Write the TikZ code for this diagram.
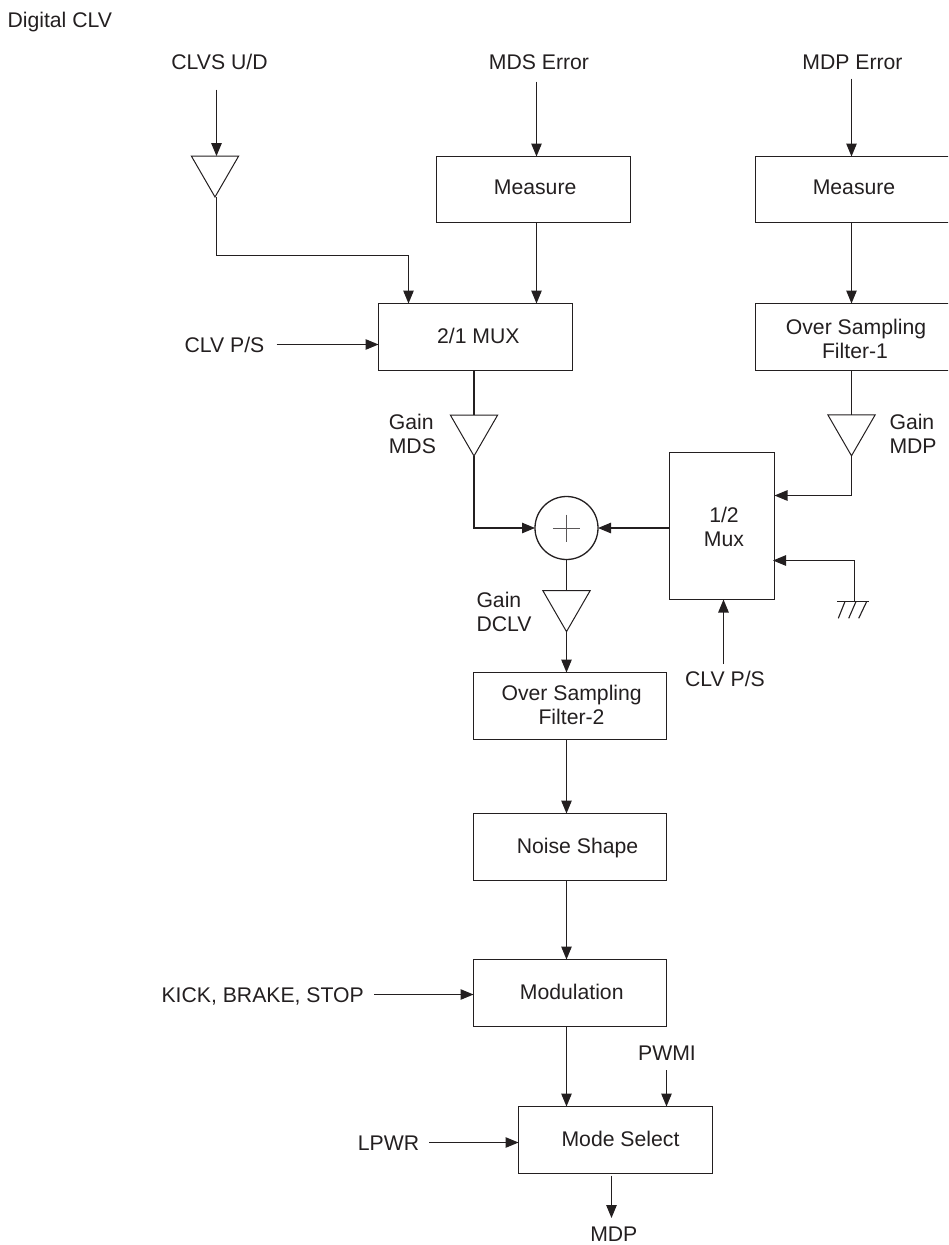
\documentclass[tikz,border=0pt]{standalone}
\usepackage{fontspec}
\setmainfont{Liberation Sans}
\usetikzlibrary{arrows.meta,shapes.geometric,calc}
\definecolor{ink}{HTML}{231F20}
\tikzset{
  x=1pt,y=-1pt,
  every node/.style={text=ink,font=\fontsize{21.2}{24}\selectfont,inner sep=0pt,outer sep=0pt},
  blockbox/.style={draw=ink,line width=1.5pt,rectangle,align=center},
  label/.style={anchor=base},
  leftlabel/.style={align=left,anchor=west},
  conn/.style={draw=ink,line width=1.1pt},
  arr/.style={conn,-{Triangle[length=13pt,width=10.5pt]}},
  amp/.style={draw=ink,line width=1pt,regular polygon,regular polygon sides=3,shape border rotate=180,minimum size=54.6pt},
  thin line/.style={draw=ink!75,line width=0.7pt},
}
\newcommand{\blk}[6]{% name, x0, y0, x1, y1, text
  \node[blockbox,minimum width=#4pt-#2pt,minimum height=#5pt-#3pt] (#1) at ({(#2+#4)/2},{(#3+#5)/2}) {#6};}
% text shifted inside its box: right by half of #1, down by #2
\newcommand{\shifted}[3]{\raisebox{#2}[\height][\depth]{\hspace*{#1}#3}}
\newcommand{\twolines}[5]{\raisebox{#1}[\height][\depth]{\begin{tabular}{@{}c@{}}\hspace*{#2}#3\\\hspace*{#4}#5\end{tabular}}}
\begin{document}
\begin{tikzpicture}
\useasboundingbox (0,0) rectangle (948,1245);
\clip (0,0) rectangle (948,1245);
\node[anchor=base west] (title) at (7.5,27) {Digital CLV};
% inputs
\node[label] (clvs) at (219.5,69.3) {CLVS U/D};
\node[label] (mdse) at (539,69.3) {MDS Error};
\node[label] (mdpe) at (852.5,69.3) {MDP Error};
\coordinate (clvsend) at (216.5,89.5);
\coordinate (mdsend) at (536.5,81.5);
\coordinate (mdpend) at (851.5,78.5);
% blocks
\blk{meas1}{436.5}{156.5}{630.5}{222.5}{\shifted{3.3pt}{2.3pt}{Measure}}
\blk{meas2}{755.5}{156.5}{949.5}{222.5}{\shifted{3pt}{2pt}{Measure}}
\blk{mux}{378.5}{303.5}{572.5}{370.5}{\shifted{5.6pt}{1.3pt}{2/1 MUX}}
\blk{osf}{755.5}{303.5}{949.5}{370.5}{\twolines{-4.5pt}{7pt}{Over Sampling}{5pt}{Filter-1}}
\blk{muxb}{669.5}{452.5}{774.5}{599.5}{\twolines{-3.2pt}{4pt}{1/2}{4pt}{Mux}}
\blk{osfb}{473.5}{672.5}{666.5}{739.5}{\twolines{-2pt}{3.4pt}{Over Sampling}{3pt}{Filter-2}}
\blk{noise}{473.5}{813.5}{666.5}{880.5}{\shifted{15pt}{-0.6pt}{Noise Shape}}
\blk{modu}{473.5}{959.5}{666.5}{1026.5}{\shifted{3.4pt}{1pt}{Modulation}}
\blk{mode}{518.5}{1106.5}{712.5}{1173.5}{\shifted{10pt}{1pt}{Mode Select}}
% amplifiers
\node[amp] (a1) at (215,169.7) {};
\node[amp] (a2) at (474,428.7) {};
\node[amp] (a3) at (851.5,428.5) {};
\node[amp] (a4) at (566.5,604.3) {};
% sum
\node[draw=ink,line width=1.3pt,circle,minimum size=63pt] (sum) at (566.5,528) {};
\draw[thin line] ($(sum.center)+(-13.7,0)$) -- ($(sum.center)+(13.7,0)$);
\draw[thin line] ($(sum.center)+(0,-13.5)$) -- ($(sum.center)+(0,13.5)$);
% labels
\node[leftlabel] (lmds) at (388.8,434) {Gain\\MDS};
\node[leftlabel] (lmdp) at (889.5,434) {Gain\\MDP};
\node[leftlabel] (ldclv) at (476.5,612.2) {Gain\\DCLV};
\node[label] (pss) at (224.5,352) {CLV P/S};
\node[label] (psb) at (725,686.7) {CLV P/S};
\node[label] (kick) at (262.7,1002.3) {KICK, BRAKE, STOP};
\node[label] (pwmi) at (667,1060) {PWMI};
\node[label] (lpwr) at (388.5,1150) {LPWR};
\node[label] (mdp) at (613.8,1241.7) {MDP};
% connector end points
\coordinate (psend) at (276.7,344.5);
\coordinate (kickend) at (374.3,994.5);
\coordinate (pwmiend) at (666.5,1070);
\coordinate (lpwrend) at (429.3,1142.5);
\coordinate (mdpstart) at (611.5,1175.5);
\coordinate (mdpend2) at (611.5,1218);
\coordinate (psbend) at (723.5,664);
\coordinate (gnd) at (854.5,601.5);
\coordinate (gndturn) at (854.5,560.5);
\coordinate (gndtip) at (773,560.5);
\coordinate (mdpturn) at (851.5,495.5);
\coordinate (clvsa) at (216.5,255.5);
\coordinate (clvsb) at (408.5,255.5);
% connectors
\draw[arr] (clvsend) -- (clvsend |- a1.north);
\draw[arr] (mdsend) -- (mdsend |- meas1.north);
\draw[arr] (mdpend) -- (mdpend |- meas2.north);
\draw[arr] (mdsend |- meas1.south) -- (mdsend |- mux.north);
\draw[arr] (mdpend |- meas2.south) -- (mdpend |- osf.north);
\draw[arr] (clvsend |- a1.south) -- (clvsa) -- (clvsb) -- (clvsb |- mux.north);
\draw[arr] (psend) -- (mux.west |- psend);
\draw[conn] (a2.north |- mux.south) -- (a2.north);
\draw[arr] (a2.south) -- (a2.south |- sum.west) -- (sum.west);
\draw[arr] (muxb.west |- sum.east) -- (sum.east);
\draw[conn] (a3.north |- osf.south) -- (a3.north);
\draw[arr] (a3.south) -- (a3.south |- mdpturn) -- (muxb.east |- mdpturn);
\draw[arr] (gnd) -- (gndturn) -- (gndtip);
\draw[conn,line width=1.8pt] (837.3,601.5) -- (869.3,601.5);
\draw[conn] (845,601.5) -- (838.3,618.3);
\draw[conn] (856,601.5) -- (848.7,618.3);
\draw[conn] (866.7,601.5) -- (858.7,618.3);
\draw[arr] (psbend) -- (psbend |- muxb.south);
\draw[conn] (sum.south) -- (sum.south |- a4.north);
\draw[arr] (sum.south |- a4.south) -- (sum.south |- osfb.north);
\draw[arr] (sum.south |- osfb.south) -- (sum.south |- noise.north);
\draw[arr] (sum.south |- noise.south) -- (sum.south |- modu.north);
\draw[arr] (kickend) -- (modu.west |- kickend);
\draw[arr] (sum.south |- modu.south) -- (sum.south |- mode.north);
\draw[arr] (pwmiend) -- (pwmiend |- mode.north);
\draw[arr] (lpwrend) -- (mode.west |- lpwrend);
\draw[arr] (mdpstart) -- (mdpend2);
\end{tikzpicture}
\end{document}
